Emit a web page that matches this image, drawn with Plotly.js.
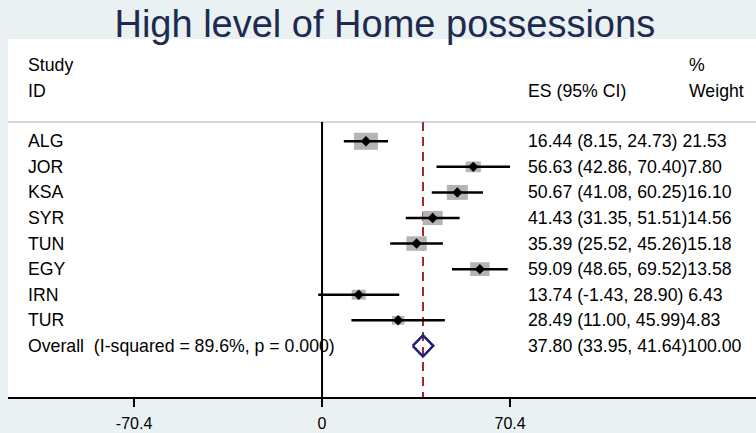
<!DOCTYPE html>
<html>
<head>
<meta charset="utf-8">
<script src="https://cdn.plot.ly/plotly-3.0.1.min.js"></script>
<style>html,body{margin:0;padding:0;background:#e9f1f3;}#chart{width:756px;height:433px;}</style>
</head>
<body>
<div id="chart"></div>
<script>
// ---- data ----
const studies = ['ALG', 'JOR', 'KSA', 'SYR', 'TUN', 'EGY', 'IRN', 'TUR'];
const es      = [16.44, 56.63, 50.67, 41.43, 35.39, 59.09, 13.74, 28.49];
const ciLow   = [8.15, 42.86, 41.08, 31.35, 25.52, 48.65, -1.43, 11.00];
const ciHigh  = [24.73, 70.40, 60.25, 51.51, 45.26, 69.52, 28.90, 45.99];
const weights = [21.53, 7.80, 16.10, 14.56, 15.18, 13.58, 6.43, 4.83];
const overallES = 37.80;
const overallLow = 33.95;
const overallHigh = 41.64;
const overallWeight = 100.00;
const overallLabel = 'Overall  (I-squared = 89.6%, p = 0.000)';
const tickVals = [-70.4, 0, 70.4];
const tickText = ['-70.4', '0', '70.4'];
const chartTitle = 'High level of Home possessions';

// ---- layout constants ----
const FONT = 'Liberation Sans, Arial, Helvetica, sans-serif';
const TXT = 17.7;
const labelX = -110.8, esX = 76.4, wX = 136.6;
const rows = studies.map((s, i) => i + 1);
const overallRow = studies.length + 1;
const nb = s => s.replace(/ /g, '\u00a0');
const f2 = v => v.toFixed(2);

// CI lines
const cx = [], cy = [];
rows.forEach((r, i) => { cx.push(ciLow[i], ciHigh[i], null); cy.push(r, r, null); });

const dh = 0.41;
const traces = [
  {x: cx, y: cy, mode: 'lines', line: {color: '#000', width: 2.5}, hoverinfo: 'skip', showlegend: false},
  {x: es, y: rows, mode: 'markers', marker: {symbol: 'diamond', size: 8, color: '#000'}, showlegend: false},
  {x: [overallLow, overallES, overallHigh, overallES, overallLow],
   y: [overallRow, overallRow - dh, overallRow, overallRow + dh, overallRow],
   mode: 'lines', line: {color: '#1b1f7a', width: 2.5}, showlegend: false}
];

// Shapes
const shapes = [
  {type: 'line', xref: 'paper', yref: 'y', x0: 0, x1: 1, y0: 0.25, y1: 0.25, line: {color: '#c8c8c8', width: 1.5}, layer: 'below'},
  {type: 'line', xref: 'x', yref: 'y', x0: overallES, x1: overallES, y0: 0.25, y1: 11, line: {color: '#a3262f', width: 2, dash: '9px,6px'}, layer: 'below'},
  {type: 'line', xref: 'x', yref: 'y', x0: 0, x1: 0, y0: 0.25, y1: 11, line: {color: '#000', width: 2}, layer: 'above'}
];
rows.forEach((r, i) => {
  const w = 4.8 * Math.sqrt(weights[i]) + 1.7;
  const h = 0.71 * w;
  shapes.push({type: 'rect', xref: 'x', yref: 'y', xsizemode: 'pixel', ysizemode: 'pixel',
    xanchor: es[i], yanchor: r, x0: -w / 2, x1: w / 2, y0: -h / 2, y1: h / 2,
    fillcolor: '#b4b4b4', line: {width: 0}, layer: 'below'});
});

// Annotations
const ann = [];
const addT = (x, y, t) => ann.push({x: x, y: y, xref: 'x', yref: 'y', text: nb(t), showarrow: false,
  xanchor: 'left', yanchor: 'middle', font: {family: FONT, size: TXT, color: '#000'}});
addT(labelX, -2, 'Study');
addT(labelX, -0.95, 'ID');
addT(esX, -0.95, 'ES (95% CI)');
addT(wX, -2, '%');
addT(wX, -0.95, 'Weight');
rows.forEach((r, i) => {
  addT(labelX, r, studies[i]);
  const sep = ciLow[i] < 10 ? ' ' : '';
  addT(esX, r, f2(es[i]) + ' (' + f2(ciLow[i]) + ', ' + f2(ciHigh[i]) + ')' + sep + f2(weights[i]));
});
addT(labelX, overallRow, overallLabel);
addT(esX, overallRow, f2(overallES) + ' (' + f2(overallLow) + ', ' + f2(overallHigh) + ')' + f2(overallWeight));

const layout = {
  width: 756, height: 433,
  margin: {l: 8, r: 0, t: 39, b: 36},
  paper_bgcolor: '#e9f1f3', plot_bgcolor: '#ffffff',
  title: {text: chartTitle, font: {family: FONT, size: 38, color: '#1e2a4f'},
    x: 0.509, xref: 'container', xanchor: 'center', y: 0.945, yref: 'container', yanchor: 'middle'},
  xaxis: {range: [-117.6, 162.5], tickvals: tickVals, ticktext: tickText, ticks: 'outside', ticklen: 8, tickwidth: 2,
    tickcolor: '#000', showline: true, linecolor: '#000', linewidth: 2, showgrid: false, zeroline: false,
    ticklabelstandoff: 3,
    tickfont: {family: FONT, size: 16, color: '#000'}, fixedrange: true},
  yaxis: {range: [11, -3], visible: false, showgrid: false, zeroline: false, fixedrange: true},
  shapes: shapes, annotations: ann, showlegend: false
};
Plotly.newPlot('chart', traces, layout, {staticPlot: true, displayModeBar: false});
</script>
</body>
</html>
